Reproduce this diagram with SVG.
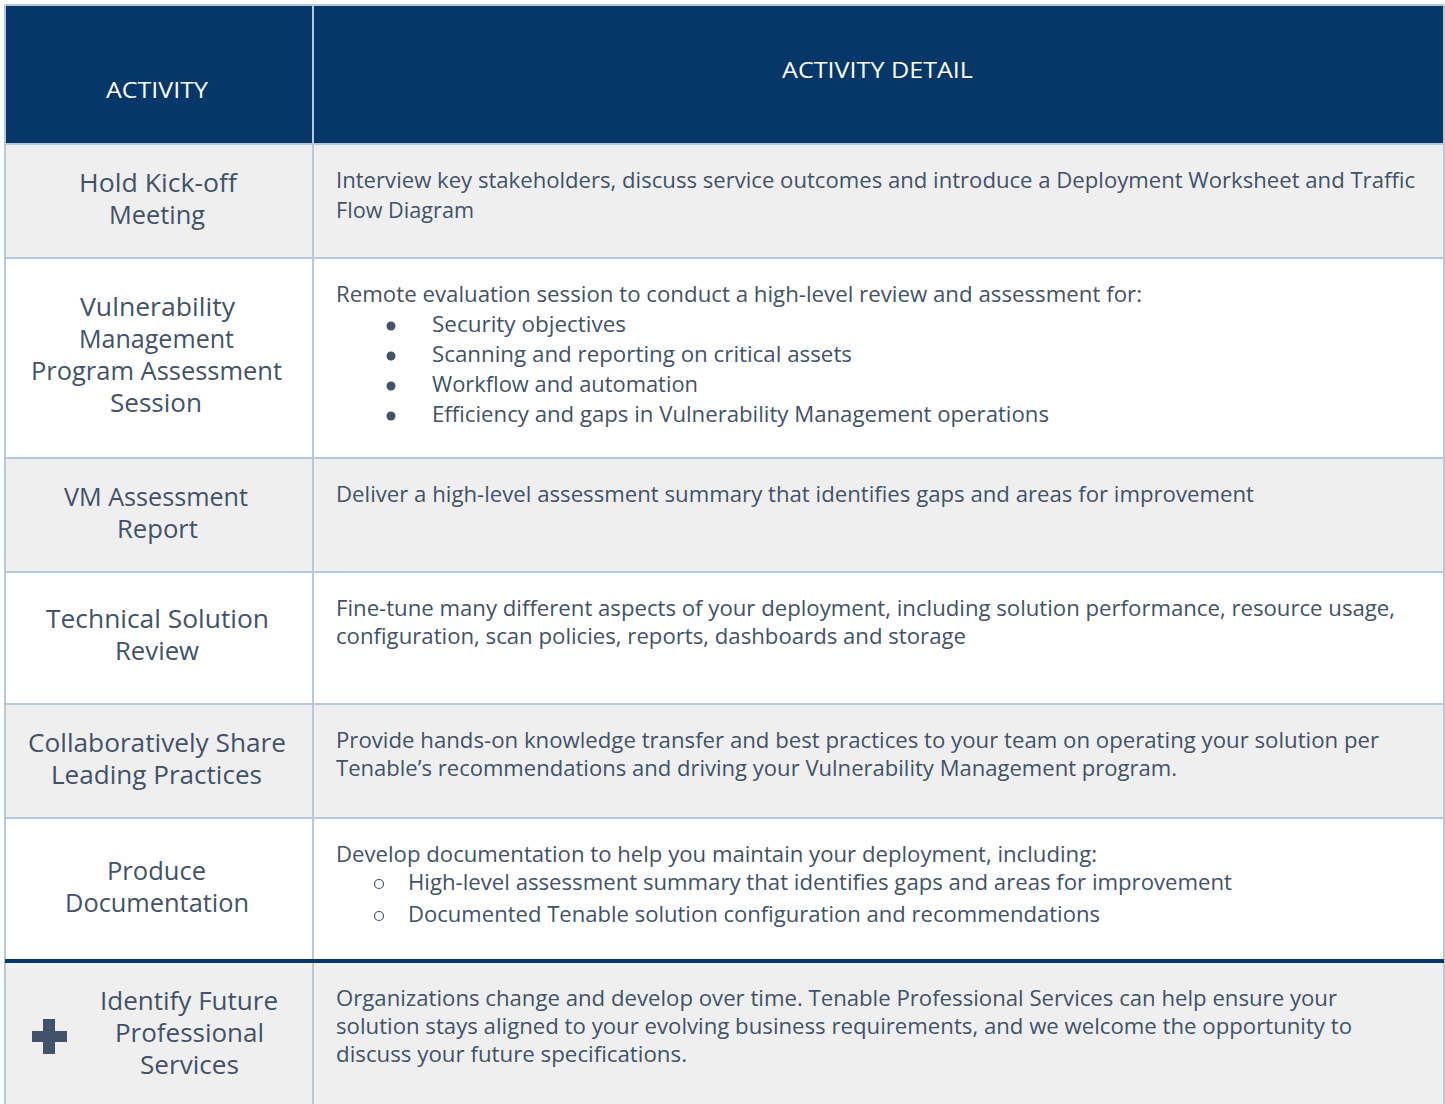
<svg xmlns="http://www.w3.org/2000/svg" width="1445" height="1104" viewBox="0 0 1445 1104">
<style>
.t{font-family:"Open Sans","Noto Sans",sans-serif;fill:#415269}
.l{font-size:25px}
.d{font-size:21px}
.h{font-family:"Open Sans","Noto Sans",sans-serif;fill:#ffffff;font-size:22px}
.grid{stroke:#b7c8d8;stroke-width:2;fill:none}
</style>
<rect x="0" y="0" width="1445" height="1104" fill="#ffffff"/>
<g id="header">
<rect x="5" y="5" width="1439" height="139" fill="#053768"/>
<text class="h" x="106" y="98" textLength="102" lengthAdjust="spacingAndGlyphs">ACTIVITY</text>
<text class="h" x="782" y="78" textLength="191" lengthAdjust="spacingAndGlyphs">ACTIVITY DETAIL</text>
</g>
<g id="rows-bg">
<rect x="5" y="144" width="1439" height="114" fill="#efefef"/>
<rect x="5" y="458" width="1439" height="114" fill="#efefef"/>
<rect x="5" y="704" width="1439" height="114" fill="#efefef"/>
<rect x="5" y="961" width="1439" height="143" fill="#efefef"/>
</g>
<g id="grid">
<path class="grid" d="M5 5V1104M1444 5V1104M313 5V1104M5 5H1444M5 144H1444M5 258H1444M5 458H1444M5 572H1444M5 704H1444M5 818H1444"/>
<line x1="5" y1="961" x2="1444" y2="961" stroke="#053768" stroke-width="4"/>
</g>
<g id="row1">
<text class="t l" x="79" y="192" textLength="158" lengthAdjust="spacingAndGlyphs">Hold Kick-off</text>
<text class="t l" x="109" y="224" textLength="96" lengthAdjust="spacingAndGlyphs">Meeting</text>
<text class="t d" x="336" y="188" textLength="1079" lengthAdjust="spacingAndGlyphs">Interview key stakeholders, discuss service outcomes and introduce a Deployment Worksheet and Traffic</text>
<text class="t d" x="336" y="218" textLength="138" lengthAdjust="spacingAndGlyphs">Flow Diagram</text>
</g>
<g id="row2">
<text class="t l" x="80" y="316" textLength="155" lengthAdjust="spacingAndGlyphs">Vulnerability</text>
<text class="t l" x="79" y="348" textLength="155" lengthAdjust="spacingAndGlyphs">Management</text>
<text class="t l" x="31" y="380" textLength="251" lengthAdjust="spacingAndGlyphs">Program Assessment</text>
<text class="t l" x="110" y="412" textLength="92" lengthAdjust="spacingAndGlyphs">Session</text>
<text class="t d" x="336" y="302" textLength="806" lengthAdjust="spacingAndGlyphs">Remote evaluation session to conduct a high-level review and assessment for:</text>
<circle cx="391" cy="326" r="4.5" fill="#415269"/>
<circle cx="391" cy="356" r="4.5" fill="#415269"/>
<circle cx="391" cy="386" r="4.5" fill="#415269"/>
<circle cx="391" cy="416" r="4.5" fill="#415269"/>
<text class="t d" x="432" y="332" textLength="194" lengthAdjust="spacingAndGlyphs">Security objectives</text>
<text class="t d" x="432" y="362" textLength="420" lengthAdjust="spacingAndGlyphs">Scanning and reporting on critical assets</text>
<text class="t d" x="432" y="392" textLength="266" lengthAdjust="spacingAndGlyphs">Workflow and automation</text>
<text class="t d" x="432" y="422" textLength="617" lengthAdjust="spacingAndGlyphs">Efficiency and gaps in Vulnerability Management operations</text>
</g>
<g id="row3">
<text class="t l" x="64" y="506" textLength="184" lengthAdjust="spacingAndGlyphs">VM Assessment</text>
<text class="t l" x="117" y="538" textLength="81" lengthAdjust="spacingAndGlyphs">Report</text>
<text class="t d" x="336" y="502" textLength="918" lengthAdjust="spacingAndGlyphs">Deliver a high-level assessment summary that identifies gaps and areas for improvement</text>
</g>
<g id="row4">
<text class="t l" x="46" y="628" textLength="223" lengthAdjust="spacingAndGlyphs">Technical Solution</text>
<text class="t l" x="115" y="660" textLength="84" lengthAdjust="spacingAndGlyphs">Review</text>
<text class="t d" x="336" y="616" textLength="1059" lengthAdjust="spacingAndGlyphs">Fine-tune many different aspects of your deployment, including solution performance, resource usage,</text>
<text class="t d" x="336" y="644" textLength="630" lengthAdjust="spacingAndGlyphs">configuration, scan policies, reports, dashboards and storage</text>
</g>
<g id="row5">
<text class="t l" x="28" y="752" textLength="258" lengthAdjust="spacingAndGlyphs">Collaboratively Share</text>
<text class="t l" x="51" y="784" textLength="211" lengthAdjust="spacingAndGlyphs">Leading Practices</text>
<text class="t d" x="336" y="748" textLength="1043" lengthAdjust="spacingAndGlyphs">Provide hands-on knowledge transfer and best practices to your team on operating your solution per</text>
<text class="t d" x="336" y="776" textLength="841" lengthAdjust="spacingAndGlyphs">Tenable’s recommendations and driving your Vulnerability Management program.</text>
</g>
<g id="row6">
<text class="t l" x="107" y="880" textLength="99" lengthAdjust="spacingAndGlyphs">Produce</text>
<text class="t l" x="65" y="912" textLength="184" lengthAdjust="spacingAndGlyphs">Documentation</text>
<text class="t d" x="336" y="862" textLength="761" lengthAdjust="spacingAndGlyphs">Develop documentation to help you maintain your deployment, including:</text>
<circle cx="379" cy="884" r="4.5" fill="none" stroke="#415269" stroke-width="1.2"/>
<circle cx="379" cy="916" r="4.5" fill="none" stroke="#415269" stroke-width="1.2"/>
<text class="t d" x="408" y="890" textLength="824" lengthAdjust="spacingAndGlyphs">High-level assessment summary that identifies gaps and areas for improvement</text>
<text class="t d" x="408" y="922" textLength="692" lengthAdjust="spacingAndGlyphs">Documented Tenable solution configuration and recommendations</text>
</g>
<g id="row7">
<path d="M43 1019H55V1031H67V1042H55V1054H43V1042H32V1031H43Z" fill="#415269"/>
<text class="t l" x="100" y="1010" textLength="178" lengthAdjust="spacingAndGlyphs">Identify Future</text>
<text class="t l" x="115" y="1042" textLength="149" lengthAdjust="spacingAndGlyphs">Professional</text>
<text class="t l" x="140" y="1074" textLength="99" lengthAdjust="spacingAndGlyphs">Services</text>
<text class="t d" x="336" y="1006" textLength="1001" lengthAdjust="spacingAndGlyphs">Organizations change and develop over time. Tenable Professional Services can help ensure your</text>
<text class="t d" x="336" y="1034" textLength="1016" lengthAdjust="spacingAndGlyphs">solution stays aligned to your evolving business requirements, and we welcome the opportunity to</text>
<text class="t d" x="336" y="1062" textLength="351" lengthAdjust="spacingAndGlyphs">discuss your future specifications.</text>
</g>
</svg>
